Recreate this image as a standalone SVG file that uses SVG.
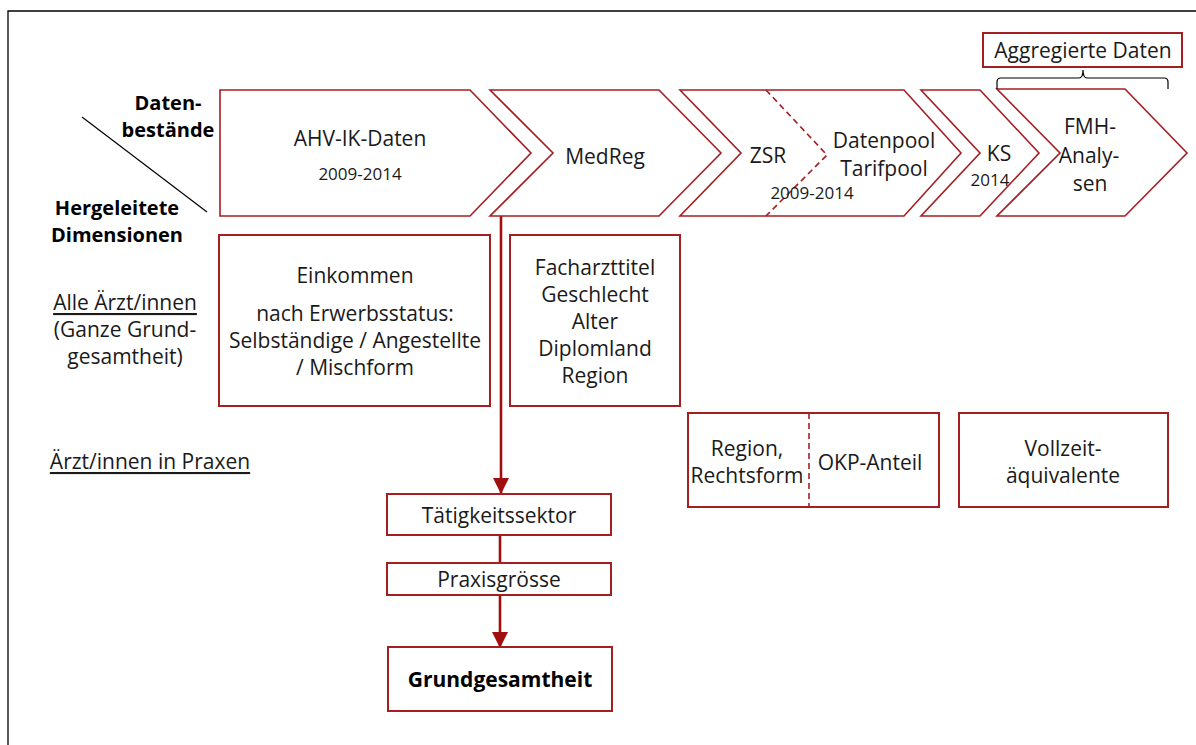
<svg xmlns="http://www.w3.org/2000/svg" width="1196" height="745" viewBox="0 0 1196 745">
<style>
.t{font-family:"Open Sans","Liberation Sans",sans-serif;font-size:21px;fill:#1a1a1a;dominant-baseline:central;text-anchor:middle}
.s{font-size:17px}
.b{font-weight:bold;fill:#000}
.h{font-size:20px}
.u{text-decoration:underline}
.sh{fill:#fff;stroke:#a51e22;stroke-width:1.6}
.bx{fill:#fff;stroke:#a51e22;stroke-width:2}
.dash{fill:none;stroke:#a51e22;stroke-width:1.6;stroke-dasharray:6 4}
.ln{fill:none;stroke:#a00e0e;stroke-width:2.6}
</style>
<defs>
<marker id="ah" markerWidth="16" markerHeight="16" refX="15" refY="8" orient="auto" markerUnits="userSpaceOnUse">
<path d="M0,0 L16,8 L0,16 Z" fill="#a00e0e"/>
</marker>
</defs>
<rect width="1196" height="745" fill="#fff"/>
<path d="M8,745 V11 H1196" fill="none" stroke="#000" stroke-width="1.3"/>

<g id="header">
<text class="t b h" x="168" y="102">Daten-</text>
<text class="t b h" x="168" y="129">bestände</text>
<line x1="82" y1="117" x2="207" y2="212" stroke="#000" stroke-width="1.2"/>
<text class="t b h" x="117" y="207">Hergeleitete</text>
<text class="t b h" x="117" y="234">Dimensionen</text>
</g>

<g id="connectors">
<line class="ln" x1="501" y1="216" x2="501" y2="493" marker-end="url(#ah)"/>
<line class="ln" x1="500" y1="535" x2="500" y2="563"/>
<line class="ln" x1="500" y1="595" x2="500" y2="647" marker-end="url(#ah)"/>
</g>

<g id="ahv">
<path class="sh" d="M220,90 H470 L531,153 L470,216 H220 Z"/>
<text class="t" x="360" y="138">AHV-IK-Daten</text>
<text class="t s" x="360" y="173">2009-2014</text>
</g>
<g id="medreg">
<path class="sh" d="M490,90 H659 L721,153 L659,216 H490 L553,153 Z"/>
<text class="t" x="605" y="156">MedReg</text>
</g>
<g id="zsr">
<path class="sh" d="M680,90 H904 L961,153 L904,216 H680 L741,153 Z"/>
<path class="dash" d="M766,90 L827,155 L766,216"/>
<text class="t" x="768" y="155">ZSR</text>
<text class="t" x="884" y="140">Datenpool</text>
<text class="t" x="884" y="168">Tarifpool</text>
<text class="t s" x="812" y="192">2009-2014</text>
</g>
<g id="ks">
<path class="sh" d="M921,90 H980 L1039,153 L980,216 H921 L980,153 Z"/>
<text class="t" x="999" y="153">KS</text>
<text class="t s" x="990" y="179">2014</text>
</g>
<g id="fmh">
<path class="sh" d="M997,89 H1125 L1187,153 L1125,216 H997 L1060,153 Z"/>
<text class="t" x="1090" y="126">FMH-</text>
<text class="t" x="1089" y="155">Analy-</text>
<text class="t" x="1090" y="183">sen</text>
</g>
<g id="aggregiert">
<rect class="bx" x="983" y="33" width="199" height="34"/>
<text class="t" x="1083" y="50">Aggregierte Daten</text>
<path d="M997,89 V82 Q997,78 1001,78 H1079 Q1083,78 1083,70 Q1083,78 1087,78 H1164 Q1168,78 1168,82 V89" fill="none" stroke="#000" stroke-width="1.2"/>
</g>

<g id="labels">
<text class="t u" x="125" y="302">Alle Ärzt/innen</text>
<text class="t" x="125" y="329">(Ganze Grund-</text>
<text class="t" x="125" y="356">gesamtheit)</text>
<text class="t u" x="150" y="461">Ärzt/innen in Praxen</text>
</g>

<g id="einkommen">
<rect class="bx" x="219" y="235" width="271" height="171"/>
<text class="t" x="355" y="275">Einkommen</text>
<text class="t" x="355" y="313">nach Erwerbsstatus:</text>
<text class="t" x="355" y="340">Selbständige / Angestellte</text>
<text class="t" x="355" y="367">/ Mischform</text>
</g>
<g id="medreg-dim">
<rect class="bx" x="510" y="235" width="170" height="171"/>
<text class="t" x="595" y="267">Facharzttitel</text>
<text class="t" x="595" y="294">Geschlecht</text>
<text class="t" x="595" y="321">Alter</text>
<text class="t" x="595" y="348">Diplomland</text>
<text class="t" x="595" y="375">Region</text>
</g>
<g id="region">
<rect class="bx" x="688" y="413" width="251" height="94"/>
<line class="dash" x1="809" y1="413" x2="809" y2="507"/>
<text class="t" x="747" y="448">Region,</text>
<text class="t" x="747" y="475">Rechtsform</text>
<text class="t" x="870" y="462">OKP-Anteil</text>
</g>
<g id="vollzeit">
<rect class="bx" x="959" y="413" width="209" height="94"/>
<text class="t" x="1063" y="448">Vollzeit-</text>
<text class="t" x="1063" y="475">äquivalente</text>
</g>
<g id="taetigkeit">
<rect class="bx" x="387" y="494" width="224" height="41"/>
<text class="t" x="499" y="515">Tätigkeitssektor</text>
</g>
<g id="praxis">
<rect class="bx" x="387" y="563" width="224" height="32"/>
<text class="t" x="499" y="579">Praxisgrösse</text>
</g>
<g id="grund">
<rect class="bx" x="388" y="647" width="224" height="64"/>
<text class="t b" x="500" y="679">Grundgesamtheit</text>
</g>
</svg>
